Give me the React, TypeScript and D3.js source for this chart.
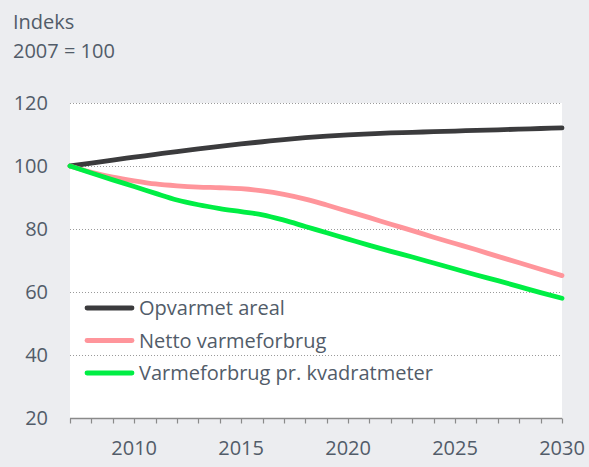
import React, { useEffect, useRef } from 'react';
import * as d3 from 'd3';

const years = d3.range(2007, 2031);
const opvarmetAreal = [100, 100.9, 101.9, 102.8, 103.7, 104.6, 105.4, 106.2, 107, 107.7, 108.4, 109, 109.5, 109.9, 110.2, 110.5, 110.7, 110.9, 111.1, 111.3, 111.5, 111.7, 111.9, 112.1];
const nettoVarmeforbrug = [100, 98, 96.5, 95.3, 94.3, 93.7, 93.3, 93.1, 92.8, 92.1, 91, 89.5, 87.6, 85.6, 83.6, 81.5, 79.5, 77.4, 75.4, 73.4, 71.3, 69.3, 67.2, 65.2];
const varmePrM2 = [100, 97.8, 95.6, 93.5, 91.3, 89.2, 87.7, 86.5, 85.5, 84.5, 82.8, 80.8, 78.8, 76.8, 74.8, 72.9, 71.1, 69.2, 67.3, 65.4, 63.6, 61.7, 59.8, 58];
const yTicks = [20, 40, 60, 80, 100, 120];
const xLabels = [2010, 2015, 2020, 2025, 2030];

const series = [
  { name: 'Opvarmet areal', values: opvarmetAreal, color: '#3b3b3d' },
  { name: 'Netto varmeforbrug', values: nettoVarmeforbrug, color: '#ff959b' },
  { name: 'Varmeforbrug pr. kvadratmeter', values: varmePrM2, color: '#00ee44' },
];

const App = () => {
  const ref = useRef<SVGSVGElement>(null);

  useEffect(() => {
    const svg = d3.select(ref.current);
    svg.selectAll('*').remove();

    const width = 589;
    const height = 467;
    const margin = { top: 103, right: 27, bottom: 49, left: 70 };
    const font = 'Open Sans, sans-serif';
    const fontSize = 20;
    const textColor = '#525c69';

    svg.append('rect').attr('width', width).attr('height', height).attr('fill', '#ecedf0');

    const x = d3.scaleLinear().domain([2007, 2030]).range([margin.left, width - margin.right]);
    const y = d3.scaleLinear().domain([20, 120]).range([height - margin.bottom, margin.top]);

    // plot area
    svg
      .append('rect')
      .attr('x', margin.left)
      .attr('y', margin.top)
      .attr('width', width - margin.left - margin.right)
      .attr('height', height - margin.top - margin.bottom)
      .attr('fill', '#ffffff');

    // gridlines
    svg
      .append('g')
      .selectAll('line')
      .data(yTicks.filter((d) => d > 20))
      .join('line')
      .attr('x1', margin.left)
      .attr('x2', width - margin.right)
      .attr('y1', (d) => y(d) + 0.5)
      .attr('y2', (d) => y(d) + 0.5)
      .attr('stroke', '#9a9a9a')
      .attr('stroke-width', 1)
      .attr('stroke-dasharray', '1,2');

    // y labels
    svg
      .append('g')
      .selectAll('text')
      .data(yTicks)
      .join('text')
      .attr('x', 48)
      .attr('y', (d) => y(d))
      .attr('dy', '0.35em')
      .attr('text-anchor', 'end')
      .attr('font-family', font)
      .attr('font-size', fontSize)
      .attr('fill', textColor)
      .text((d) => d);

    // x axis
    const axisY = y(20) + 0.5;
    svg
      .append('line')
      .attr('x1', margin.left)
      .attr('x2', width - margin.right)
      .attr('y1', axisY)
      .attr('y2', axisY)
      .attr('stroke', '#8a8a8a')
      .attr('stroke-width', 1.5);

    svg
      .append('g')
      .selectAll('line')
      .data(years)
      .join('line')
      .attr('x1', (d) => Math.round(x(d)) + 0.5)
      .attr('x2', (d) => Math.round(x(d)) + 0.5)
      .attr('y1', axisY)
      .attr('y2', axisY + 5)
      .attr('stroke', '#8a8a8a')
      .attr('stroke-width', 1.2);

    svg
      .append('g')
      .selectAll('text')
      .data(xLabels)
      .join('text')
      .attr('x', (d) => x(d))
      .attr('y', 448)
      .attr('dy', '0.35em')
      .attr('text-anchor', 'middle')
      .attr('font-family', font)
      .attr('font-size', fontSize)
      .attr('fill', textColor)
      .text((d) => d);

    // title
    svg
      .append('text')
      .attr('x', 13)
      .attr('y', 29)
      .attr('font-family', font)
      .attr('font-size', fontSize)
      .attr('fill', textColor)
      .text('Indeks');
    svg
      .append('text')
      .attr('x', 13)
      .attr('y', 58)
      .attr('font-family', font)
      .attr('font-size', fontSize)
      .attr('fill', textColor)
      .text('2007 = 100');

    // lines
    const line = d3
      .line<number>()
      .curve(d3.curveMonotoneX)
      .x((_, i) => x(years[i]))
      .y((d) => y(d));

    series.forEach((s) => {
      svg
        .append('path')
        .datum(s.values)
        .attr('fill', 'none')
        .attr('stroke', s.color)
        .attr('stroke-width', 4.8)
        .attr('stroke-linecap', 'round')
        .attr('stroke-linejoin', 'round')
        .attr('d', line);
    });

    // legend
    const legend = svg.append('g');
    series.forEach((s, i) => {
      const ly = 308 + i * 32.5;
      legend
        .append('line')
        .attr('x1', 87)
        .attr('x2', 132)
        .attr('y1', ly)
        .attr('y2', ly)
        .attr('stroke', s.color)
        .attr('stroke-width', 4.8)
        .attr('stroke-linecap', 'round');
      legend
        .append('text')
        .attr('x', 139)
        .attr('y', ly)
        .attr('dy', '0.35em')
        .attr('font-family', font)
        .attr('font-size', fontSize)
        .attr('fill', textColor)
        .text(s.name);
    });
  }, []);

  return (
    <svg
      ref={ref}
      width={589}
      height={467}
      style={{ position: 'absolute', left: 0, top: 0, display: 'block' }}
    />
  );
};

export default App;
